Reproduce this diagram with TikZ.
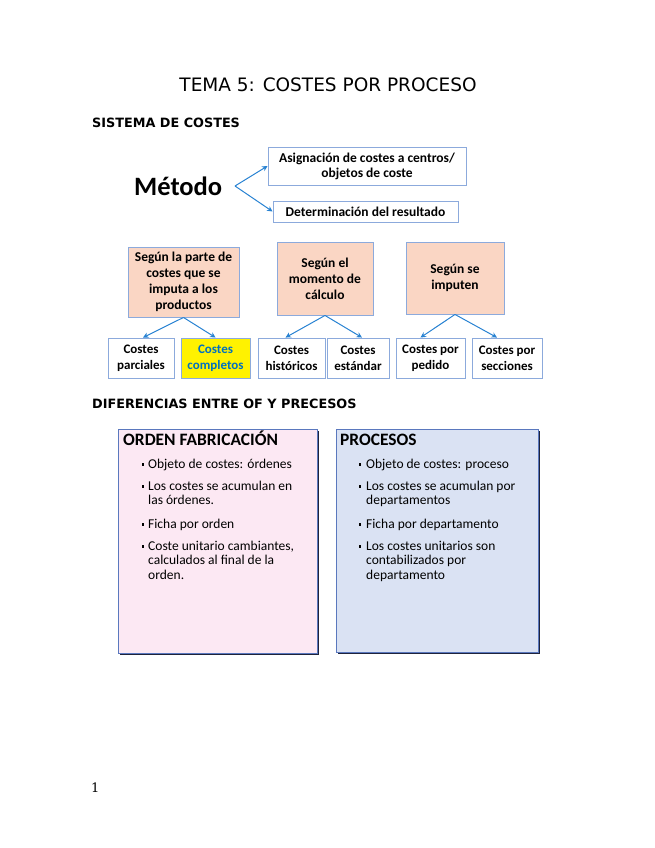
\documentclass[tikz,border=0pt]{standalone}
\usepackage{fontspec}
\setmainfont{Carlito}
\newfontfamily\dv{DejaVu Sans}
\newfontfamily\dvs{DejaVu Serif}
\usetikzlibrary{arrows.meta,calc}
\definecolor{arrblue}{RGB}{40,130,210}
\definecolor{sborder}{RGB}{140,170,220}
\definecolor{peach}{RGB}{250,214,196}
\definecolor{ytext}{RGB}{0,112,192}
\definecolor{pinkfill}{RGB}{252,232,243}
\definecolor{bluefill}{RGB}{218,226,243}
\definecolor{bigborder}{RGB}{90,120,190}
\definecolor{shadowc}{RGB}{30,35,60}
\tikzset{
  sbox/.style={draw=sborder, line width=0.9pt, fill=white, inner sep=0pt, align=center,
    font=\bfseries\fontsize{13.5}{15}\selectfont},
  pbox/.style={sbox, fill=peach, font=\bfseries\fontsize{13.5}{16}\selectfont},
  cbox/.style={sbox, minimum height=40, font=\bfseries\fontsize{13}{16}\selectfont},
  arr/.style={draw=arrblue, line width=1pt, -{Stealth[length=5.5pt,width=5.5pt]}},
  head/.style={anchor=base west, inner sep=0pt, font=\dv\bfseries\fontsize{12.8}{16}\selectfont},
  bighead/.style={anchor=base west, inner sep=0pt, font=\bfseries\fontsize{17.4}{20}\selectfont},
  bul/.style={anchor=base west, inner sep=0pt, align=left, font=\fontsize{13.5}{14.5}\selectfont},
  dot/.style={anchor=base, inner sep=0pt, font=\fontsize{13.5}{14.5}\selectfont},
  bigbox/.style={draw=bigborder, line width=1pt},
}
\newcommand{\sq}{\raisebox{2.5pt}{\rule{2.6pt}{2.6pt}}}
\begin{document}
\begin{tikzpicture}[x=1pt,y=-1pt]
\useasboundingbox (0,0) rectangle (655,848);

% Titles
\node[anchor=base, inner sep=0pt, font=\dv\fontsize{18.5}{22}\selectfont] (title) at (328,92) {TEMA 5: COSTES POR PROCESO};
\node[head] (sis) at (92,128) {SISTEMA DE COSTES};

% Metodo
\node[anchor=base west, inner sep=0pt, font=\bfseries\fontsize{26.5}{30}\selectfont] (metodo) at (134,195) {Método};
\coordinate (m0) at (235,186);
\node[sbox, minimum width=198, minimum height=38] (asig) at (367,166) {Asignación de costes a centros/\\objetos de coste};
\node[sbox, minimum width=185, minimum height=21] (det) at (365.5,211.5) {Determinación del resultado};
\draw[arr] (m0) -- (asig.west);
\draw[arr] (m0) -- (det.west);

% Peach boxes
\node[pbox, minimum width=111, minimum height=70] (pa) at (183.5,282) {Según la parte de\\costes que se\\imputa a los\\productos};
\node[pbox, minimum width=96, minimum height=73] (pb) at (325,278.5) {Según el\\momento de\\cálculo};
\node[pbox, minimum width=98, minimum height=72] (pc) at (455,278) {Según se\\imputen};

% Bottom boxes
\node[cbox, minimum width=66] (parc) at (141,358) {Costes\\parciales};
\node[cbox, minimum width=69, fill=yellow, text=ytext] (comp) at (215.5,358) {Costes\\completos};
\node[cbox, minimum width=67] (hist) at (291.5,358) {Costes\\históricos};
\node[cbox, minimum width=62] (est) at (358,358) {Costes\\estándar};
\node[cbox, minimum width=69] (ped) at (430.5,358) {Costes por\\pedido};
\node[cbox, minimum width=70] (sec) at (507,358) {Costes por\\secciones};

\draw[arr] (pa.south) -- ($(parc.north)+(2,0)$);
\draw[arr] (pa.south) -- ($(comp.north)+(0,0)$);
\draw[arr] (pb.south) -- ($(hist.north)+(-6,0)$);
\draw[arr] (pb.south) -- ($(est.north)+(4,0)$);
\draw[arr] (pc.south) -- ($(ped.north)+(-10,0)$);
\draw[arr] (pc.south) -- ($(sec.north)+(-10,0)$);

% Second heading
\node[head] (dif) at (92,408) {DIFERENCIAS ENTRE OF Y PRECESOS};

% Big boxes
\fill[shadowc] (120,431) rectangle (319,655);
\filldraw[bigbox, fill=pinkfill] (118,429) rectangle (317,653);
\fill[shadowc] (338,431) rectangle (540,654);
\filldraw[bigbox, fill=bluefill] (336,429) rectangle (538,652);

\node[bighead] (of) at (123,445) {ORDEN FABRICACIÓN};
\node[dot] (d1) at (143,468) {\sq};
\node[bul] (t1) at (148,468) {Objeto de costes: órdenes};
\node[dot] (d2) at (143,490) {\sq};
\node[bul] (t2) at (148,504.5) {Los costes se acumulan en\\las órdenes.};
\node[dot] (d3) at (143,528) {\sq};
\node[bul] (t3) at (148,528) {Ficha por orden};
\node[dot] (d4) at (143,550) {\sq};
\node[bul] (t4) at (148,579) {Coste unitario cambiantes,\\calculados al final de la\\orden.};

\node[bighead] (pr) at (340,445) {PROCESOS};
\node[dot] (e1) at (360,468) {\sq};
\node[bul] (u1) at (366,468) {Objeto de costes: proceso};
\node[dot] (e2) at (360,490) {\sq};
\node[bul] (u2) at (366,504.5) {Los costes se acumulan por\\departamentos};
\node[dot] (e3) at (360,528) {\sq};
\node[bul] (u3) at (366,528) {Ficha por departamento};
\node[dot] (e4) at (360,550) {\sq};
\node[bul] (u4) at (366,579) {Los costes unitarios son\\contabilizados por\\departamento};

% Page number
\node[anchor=base west, inner sep=0pt, font=\dvs\fontsize{13}{16}\selectfont] (pn) at (91,792) {1};
\end{tikzpicture}
\end{document}
